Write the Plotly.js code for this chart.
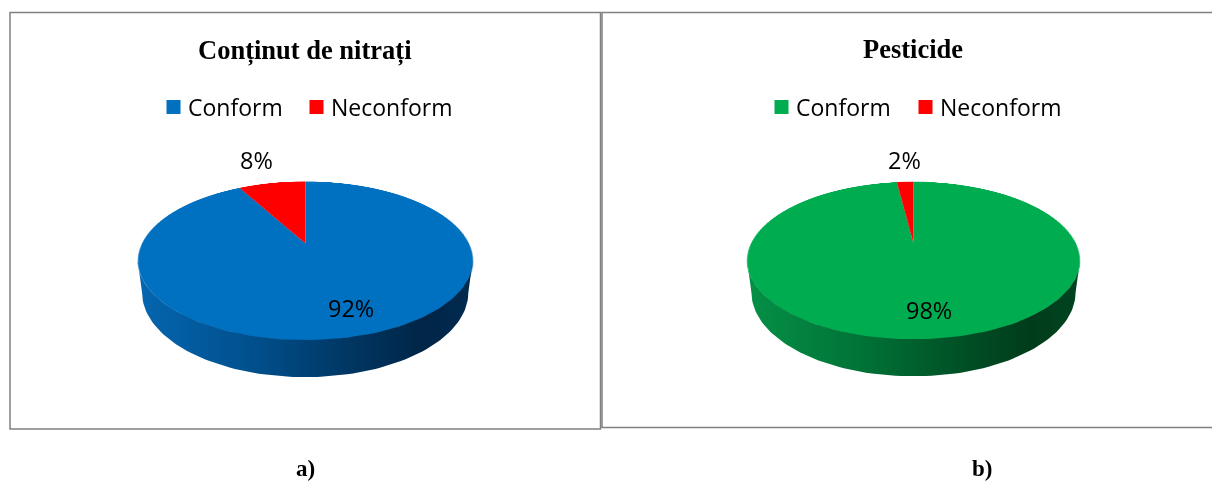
<!DOCTYPE html>
<html>
<head>
<meta charset="utf-8">
<script src="https://cdn.plot.ly/plotly-3.0.1.min.js"></script>
<style>
html,body{margin:0;padding:0;background:#fff;width:1212px;height:482px;overflow:hidden}
#base{position:absolute;left:0;top:0;width:1212px;height:482px;z-index:2}
.top{position:absolute;z-index:1;transform-origin:50% 50%;transform:perspective(658px) rotateX(62.4deg)}
</style>
</head>
<body>
<div id="pieA" class="top" style="left:141.5px;top:79.5px;width:327px;height:327px"></div>
<div id="pieB" class="top" style="left:751px;top:80.5px;width:325px;height:325px"></div>
<div id="base"></div>
<script>
var categories = ['Conform', 'Neconform'];
var nitrati = [92, 8];
var pesticide = [98, 2];
var titleA = 'Conținut de nitrați';
var titleB = 'Pesticide';
var captionA = 'a)';
var captionB = 'b)';
var colorsA = ['#0070C0', '#FF0000'];
var colorsB = ['#00AC50', '#FF0000'];

function drawTop(id, values, colors, size) {
  Plotly.newPlot(id, [{
    type: 'pie', labels: categories, values: values, sort: false,
    direction: 'clockwise', rotation: 0, textinfo: 'none', hoverinfo: 'skip',
    marker: {colors: colors, line: {width: 0}}
  }], {
    width: size, height: size, margin: {l: 0, r: 0, t: 0, b: 0}, showlegend: false,
    paper_bgcolor: 'rgba(0,0,0,0)'
  }, {staticPlot: true, displayModeBar: false});
}
drawTop('pieA', nitrati, colorsA, 327);
drawTop('pieB', pesticide, colorsB, 325);

// Side wall of the disc: same projection as the CSS perspective on the pie.
var D = 658, H = 36.5, TH = 62.4 * Math.PI / 180;
function wall(cx, cy, R) {
  var xs = [], ys = [], i, a;
  function proj(t, h) {
    var x = R * Math.cos(t), y = R * Math.sin(t);
    var s = D / (D - y * Math.sin(TH) + h * Math.cos(TH));
    return [cx + x * s, cy + (y * Math.cos(TH) + h * Math.sin(TH)) * s];
  }
  var a0 = 0.22, a1 = Math.PI - 0.22, n = 90, p;
  for (i = 0; i <= n; i++) { a = a0 + (a1 - a0) * i / n; p = proj(a, 0); xs.push(p[0]); ys.push(p[1]); }
  for (i = n; i >= 0; i--) { a = a0 + (a1 - a0) * i / n; p = proj(a, H); xs.push(p[0]); ys.push(p[1]); }
  return {x: xs, y: ys};
}
function wallTrace(cx, cy, R, scale) {
  var w = wall(cx, cy, R);
  return {
    type: 'scatter', x: w.x, y: w.y, mode: 'lines', fill: 'toself', line: {width: 0},
    fillgradient: {type: 'horizontal', colorscale: scale},
    showlegend: false, hoverinfo: 'skip'
  };
}
function legendTrace(name, color, legend) {
  return {
    type: 'scatter', x: [null], y: [null], mode: 'markers', name: name, legend: legend,
    marker: {symbol: 'square', size: 14, color: color}, hoverinfo: 'skip'
  };
}
var traces = [
  wallTrace(305.2, 243, 163.4, [[0, '#0566B0'], [0.35, '#004F8C'], [0.65, '#003560'], [0.85, '#002547'], [1, '#002B50']]),
  wallTrace(913.5, 243, 162.4, [[0, '#059046'], [0.35, '#007236'], [0.65, '#004F25'], [0.85, '#003C1B'], [1, '#004420']]),
  legendTrace(categories[0], colorsA[0], 'legend'),
  legendTrace(categories[1], colorsA[1], 'legend2'),
  legendTrace(categories[0], colorsB[0], 'legend3'),
  legendTrace(categories[1], colorsB[1], 'legend4')
];
function pct(v) { return v + '%'; }
function note(text, x, y, size, family, bold) {
  return {xref: 'x', yref: 'y', x: x, y: y, text: bold ? '<b>' + text + '</b>' : text, showarrow: false,
    xanchor: 'center', yanchor: 'middle', font: {family: family, size: size, color: '#000'}};
}
var serif = '"Liberation Serif", serif', sans = '"Open Sans", sans-serif';
function legendAt(px) {
  return {x: px / 1212, y: 1 - 107 / 482, orientation: 'h', xanchor: 'left', yanchor: 'middle',
    bgcolor: 'rgba(0,0,0,0)', font: {family: sans, size: 23, color: '#000'}, itemsizing: 'trace'};
}
var frame = {color: '#808080', width: 1.5};
Plotly.newPlot('base', traces, {
  width: 1212, height: 482, margin: {l: 0, r: 0, t: 0, b: 0},
  paper_bgcolor: 'rgba(0,0,0,0)', plot_bgcolor: 'rgba(0,0,0,0)',
  xaxis: {range: [0, 1212], visible: false, fixedrange: true},
  yaxis: {range: [482, 0], visible: false, fixedrange: true},
  showlegend: true,
  legend: legendAt(148),
  legend2: legendAt(291),
  legend3: legendAt(756),
  legend4: legendAt(900),
  shapes: [
    {type: 'rect', xref: 'x', yref: 'y', x0: 10, x1: 600.5, y0: 12.5, y1: 429, line: frame},
    {type: 'rect', xref: 'x', yref: 'y', x0: 602, x1: 1225, y0: 12.5, y1: 427.5, line: frame}
  ],
  annotations: [
    note(titleA, 305, 50, 26.5, serif, true),
    note(titleB, 913, 49, 26.5, serif, true),
    note(pct(nitrati[1]), 256, 160, 23.5, sans),
    note(pct(nitrati[0]), 351, 308, 23.5, sans),
    note(pct(pesticide[1]), 904, 160, 23.5, sans),
    note(pct(pesticide[0]), 929, 310, 23.5, sans),
    note(captionA, 305, 468.5, 23, serif, true),
    note(captionB, 982, 468.5, 23, serif, true)
  ]
}, {staticPlot: true, displayModeBar: false}).then(function () {
  // Bring the legend swatches closer to their labels.
  document.querySelectorAll('#base .legendsymbols').forEach(function (g) {
    g.setAttribute('transform', 'translate(5.5,0)');
  });
});
</script>
</body>
</html>
